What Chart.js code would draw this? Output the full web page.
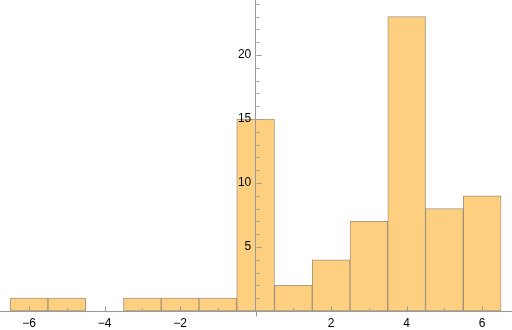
<!DOCTYPE html>
<html lang="en">

<head>
    <meta charset="UTF-8">
    <title>Histogram</title>
    <script src="https://cdn.jsdelivr.net/npm/chart.js"></script>
    <style>
        body { margin: 0; background: #fff; }
    </style>
</head>

<body>
    <canvas id="histograma" width="512" height="330"></canvas>

    <script>
        // bin centres (width 1) and counts
        const binCenters = [-6, -5, -3, -2, -1, 0, 1, 2, 3, 4, 5, 6];
        const counts = [1, 1, 1, 1, 1, 15, 2, 4, 7, 23, 8, 9];
        const xLabelTicks = [-6, -4, -2, 2, 4, 6];
        const yLabelTicks = [5, 10, 15, 20];

        const corEixo = '#9a9a9a';

        // ticks curtos estilo Mathematica, para dentro do grafico
        const marcasPlugin = {
            id: 'marcas',
            afterDraw(chart) {
                const ctx = chart.ctx;
                const sx = chart.scales.x, sy = chart.scales.y;
                const x0 = Math.round(sx.getPixelForValue(0)) + 0.5;
                const y0 = Math.round(sy.getPixelForValue(0)) + 0.5;
                ctx.save();
                ctx.strokeStyle = corEixo;
                ctx.lineWidth = 1;
                ctx.beginPath();
                for (let v = Math.ceil(sy.min); v <= sy.max; v++) {
                    if (v === 0) continue;
                    const y = Math.round(sy.getPixelForValue(v)) + 0.5;
                    const len = yLabelTicks.includes(v) ? 5 : 3;
                    ctx.moveTo(x0, y);
                    ctx.lineTo(x0 + len, y);
                }
                for (let v = Math.ceil(sx.min); v <= sx.max; v++) {
                    if (v === 0) continue;
                    const x = Math.round(sx.getPixelForValue(v)) + 0.5;
                    const len = xLabelTicks.includes(v) ? 5 : 3;
                    ctx.moveTo(x, y0);
                    ctx.lineTo(x, y0 - len);
                }
                // eixo y passa um pouco abaixo do eixo x
                ctx.moveTo(x0, y0);
                ctx.lineTo(x0, y0 + 5);
                ctx.stroke();
                ctx.restore();
            }
        };

        function semPadding(s) {
            s.paddingLeft = 0;
            s.paddingRight = 0;
            s.paddingTop = 0;
            s.paddingBottom = 0;
        }

        const ctxHist = document.getElementById('histograma').getContext('2d');

        let histograma = new Chart(ctxHist, {
            type: 'bar',
            data: {
                datasets: [{
                    data: binCenters.map((c, i) => ({ x: c, y: counts[i] })),
                    backgroundColor: 'rgb(253, 207, 127)',
                    borderColor: 'rgba(140, 118, 85, 0.75)',
                    borderWidth: 1,
                    borderSkipped: false,
                    barPercentage: 1,
                    categoryPercentage: 1
                }]
            },
            options: {
                responsive: false,
                animation: false,
                layout: { padding: 0 },
                plugins: {
                    legend: { display: false },
                    tooltip: { enabled: false }
                },
                scales: {
                    x: {
                        type: 'linear',
                        position: 'bottom',
                        offset: false,
                        min: -6.77,
                        max: 6.79,
                        afterFit: (s) => { s.height = 19; semPadding(s); },
                        afterBuildTicks: (s) => { s.ticks = xLabelTicks.map(v => ({ value: v })); },
                        grid: { display: false, drawTicks: false },
                        border: { display: true, color: corEixo, width: 1, z: 1 },
                        ticks: {
                            z: 1,
                            padding: 5,
                            color: '#000',
                            font: { family: 'Liberation Sans', size: 12 },
                            maxRotation: 0,
                            autoSkip: false,
                            callback: (v) => String(v).replace('-', '\u2212')
                        }
                    },
                    y: {
                        type: 'linear',
                        position: { x: 0 },
                        min: 0,
                        max: 24.3,
                        afterFit: (s) => { s.width = 0; semPadding(s); },
                        afterBuildTicks: (s) => { s.ticks = yLabelTicks.map(v => ({ value: v })); },
                        grid: { display: false, drawTicks: false },
                        border: { display: true, color: corEixo, width: 1, z: 1 },
                        ticks: {
                            z: 1,
                            color: '#000',
                            font: { family: 'Liberation Sans', size: 12 },
                            autoSkip: false,
                            // com posicao {x: 0} o Chart.js ignora o padding, entao um espaco afasta do eixo
                            callback: (v) => v + ' \u200A'
                        }
                    }
                }
            },
            plugins: [marcasPlugin]
        });
    </script>
</body>

</html>
